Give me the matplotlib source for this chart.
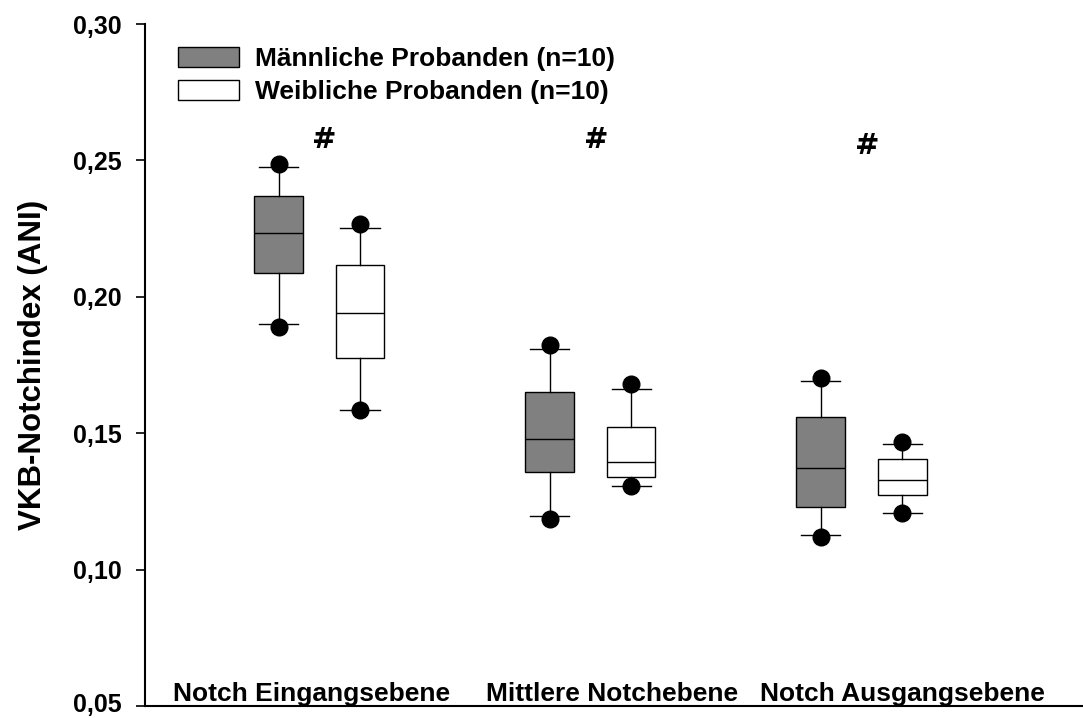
import matplotlib
matplotlib.use("Agg")
import matplotlib.pyplot as plt
import matplotlib.transforms as mtransforms
from matplotlib.patches import Patch
from matplotlib.ticker import FuncFormatter

plt.rcParams['font.family'] = ['Liberation Sans', 'DejaVu Sans']
plt.rcParams['font.weight'] = 'bold'

categories = ['Notch Eingangsebene', 'Mittlere Notchebene', 'Notch Ausgangsebene']
groups = ['Männliche Probanden (n=10)', 'Weibliche Probanden (n=10)']
colors = ['#808080', 'white']

# whislo, q1, median, q3, whishi per category
male_whislo = [0.1899, 0.1196, 0.1127]
male_q1 = [0.2088, 0.1359, 0.1228]
male_med = [0.2233, 0.1479, 0.1371]
male_q3 = [0.2369, 0.1650, 0.1559]
male_whishi = [0.2477, 0.1810, 0.1691]
male_out_hi = [0.2487, 0.1823, 0.1703]
male_out_lo = [0.1890, 0.1184, 0.1121]

female_whislo = [0.1586, 0.1305, 0.1207]
female_q1 = [0.1775, 0.1339, 0.1275]
female_med = [0.1939, 0.1393, 0.1330]
female_q3 = [0.2115, 0.1522, 0.1404]
female_whishi = [0.2251, 0.1663, 0.1462]
female_out_hi = [0.2267, 0.1680, 0.1469]
female_out_lo = [0.1586, 0.1305, 0.1207]

sig_marks = ['#', '#', '#']
sig_y = [0.2575, 0.2575, 0.2553]


def make_stats(lo, q1, med, q3, hi, o_hi, o_lo):
    out = []
    for i in range(len(lo)):
        out.append(dict(whislo=lo[i], q1=q1[i], med=med[i], q3=q3[i],
                        whishi=hi[i], fliers=[o_hi[i], o_lo[i]]))
    return out


male_stats = make_stats(male_whislo, male_q1, male_med, male_q3, male_whishi,
                        male_out_hi, male_out_lo)
female_stats = make_stats(female_whislo, female_q1, female_med, female_q3,
                          female_whishi, female_out_hi, female_out_lo)

fig = plt.figure(figsize=(10.83, 7.18), dpi=100)
ax = fig.add_axes([145 / 1083, 1 - 706 / 718, 1 - 145 / 1083, (706 - 24) / 718])

centers = [1, 2, 3]
off = 0.15
for stats, shift, col in [(male_stats, -off, colors[0]), (female_stats, off, colors[1])]:
    ax.bxp(stats, positions=[c + shift for c in centers], widths=0.18,
           capwidths=0.144, patch_artist=True, manage_ticks=False,
           boxprops=dict(facecolor=col, edgecolor='black', linewidth=1.0),
           medianprops=dict(color='black', linewidth=1.0),
           whiskerprops=dict(color='black', linewidth=1.0),
           capprops=dict(color='black', linewidth=1.0),
           flierprops=dict(marker='o', markerfacecolor='black',
                           markeredgecolor='black', markersize=12))

ax.set_xlim(0.357, 3.817)
ax.set_ylim(0.05, 0.30)
ax.set_yticks([0.05, 0.10, 0.15, 0.20, 0.25, 0.30])
ax.yaxis.set_major_formatter(FuncFormatter(lambda v, p: f"{v:.2f}".replace('.', ',')))
ax.tick_params(axis='y', direction='out', length=6.5, width=1.2, pad=10, labelsize=18)
ax.tick_params(axis='x', bottom=False, labelbottom=False)
for s in ['top', 'right']:
    ax.spines[s].set_visible(False)
for s in ['left', 'bottom']:
    ax.spines[s].set_linewidth(1.5)

# nudge the lowest tick label up so it stays inside the figure
lowest = ax.get_yticklabels()[0]
lowest.set_transform(lowest.get_transform() +
                     mtransforms.ScaledTranslation(0, 3 / 100, fig.dpi_scale_trans))

ax.set_ylabel('VKB-Notchindex (ANI)', fontsize=22.5, fontweight='bold', labelpad=18)

label_x = [0.973, 2.079, 3.152]
for x, name in zip(label_x, categories):
    ax.text(x, 0.0519, name, ha='center', va='baseline', fontsize=19, fontweight='bold')

# heavier glyph for the significance marks
for c, m, y in zip(centers, sig_marks, sig_y):
    ax.text(c + 0.02, y, m, ha='center', va='center', fontsize=21,
            fontweight='bold', family='DejaVu Sans')

handles = [Patch(facecolor=colors[0], edgecolor='black', linewidth=1.0),
           Patch(facecolor=colors[1], edgecolor='black', linewidth=1.0)]
fig.legend(handles, groups, loc='upper left', bbox_to_anchor=(178 / 1083, 1 - 47 / 718),
           frameon=False, prop=dict(weight='bold', size=19),
           handlelength=2.3, handleheight=0.76, handletextpad=0.62,
           labelspacing=0.35, borderpad=0, borderaxespad=0)

fig.savefig('out.png', dpi=100)
